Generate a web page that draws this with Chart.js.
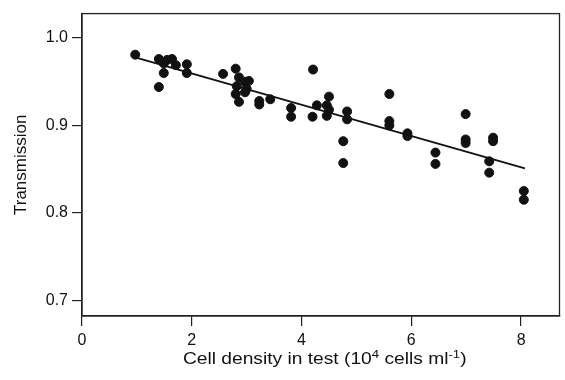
<!DOCTYPE html>
<html>
<head>
<meta charset="utf-8">
<script src="https://cdn.jsdelivr.net/npm/chart.js@4"></script>
<style>
  html, body { margin: 0; padding: 0; background: #fff; }
  #wrap { width: 565px; height: 380px; }
</style>
</head>
<body>
<div id="wrap"><canvas id="grafico"></canvas></div>
<script>
// valores
const densidade = [0.97, 1.40, 1.40, 1.49, 1.49, 1.55, 1.64, 1.71, 1.91, 1.91,
  2.57, 2.80, 2.86, 2.82, 2.80, 2.86, 2.97, 3.04, 3.00, 2.97,
  3.23, 3.23, 3.43, 3.81, 3.81, 4.21, 4.28, 4.20, 4.50, 4.46,
  4.50, 4.46, 4.83, 4.83, 4.76, 4.76, 5.60, 5.60, 5.60, 5.93,
  5.93, 6.44, 6.44, 6.99, 6.99, 6.99, 7.42, 7.42, 7.49, 7.49,
  8.05, 8.05];
const transmissao = [0.981, 0.976, 0.944, 0.971, 0.960, 0.975, 0.976, 0.969, 0.970, 0.960,
  0.959, 0.965, 0.955, 0.945, 0.936, 0.927, 0.950, 0.951, 0.942, 0.938,
  0.928, 0.924, 0.930, 0.920, 0.910, 0.964, 0.923, 0.910, 0.933, 0.923,
  0.918, 0.911, 0.916, 0.907, 0.882, 0.857, 0.936, 0.905, 0.900, 0.891,
  0.888, 0.869, 0.856, 0.913, 0.884, 0.880, 0.859, 0.846, 0.886, 0.882,
  0.825, 0.815];
// reta de regressão (extremos)
const retaX = [0.97, 8.07];
const retaY = [0.978, 0.851];
const ticksX = [0, 2, 4, 6, 8];
const ticksY = [0.7, 0.8, 0.9, 1.0];
// título do eixo x, pedaços normais e sobrescritos
const tituloX = [['Cell density in test (10', false], ['4', true], [' cells ml', false], ['-1', true], [')', false]];

const fonte = "'Liberation Sans', Arial, Helvetica, sans-serif";

// moldura em volta da área do gráfico + título do eixo x com expoentes
const moldura = {
  id: 'moldura',
  afterDraw(chart) {
    const a = chart.chartArea;
    const c = chart.ctx;
    c.save();
    c.strokeStyle = '#222';
    c.lineWidth = 1.3;
    c.strokeRect(a.left, a.top, a.right - a.left, a.bottom - a.top);

    const normal = '16px ' + fonte;
    const sobre = '11px ' + fonte;
    const esticar = 1.2; // o texto original é mais largo
    let total = 0;
    tituloX.forEach(([t, s]) => { c.font = s ? sobre : normal; total += c.measureText(t).width; });
    const centro = (a.left + a.right) / 2 + 4;
    c.translate(centro, 0);
    c.scale(esticar, 1);
    let x = -total / 2;
    const base = 364;
    c.fillStyle = '#111';
    c.textBaseline = 'alphabetic';
    c.textAlign = 'left';
    tituloX.forEach(([t, s]) => {
      c.font = s ? sobre : normal;
      c.fillText(t, x, s ? base - 6 : base);
      x += c.measureText(t).width;
    });
    c.restore();
  }
};

const ctx = document.getElementById('grafico').getContext('2d');
const grafico = new Chart(ctx, {
  type: 'scatter',
  data: {
    datasets: [{
      label: 'Pontos',
      data: densidade.map((x, i) => ({ x: x, y: transmissao[i] })),
      backgroundColor: '#111',
      borderColor: '#111',
      pointRadius: 4.5,
      pointHoverRadius: 4.5
    }, {
      type: 'line',
      label: 'Reta',
      data: retaX.map((x, i) => ({ x: x, y: retaY[i] })),
      borderColor: '#111',
      borderWidth: 1.8,
      pointRadius: 0,
      fill: false
    }]
  },
  options: {
    responsive: true,
    maintainAspectRatio: false,
    animation: false,
    layout: { padding: { left: 7, right: 1, top: 13, bottom: 0 } },
    plugins: {
      legend: { display: false },
      tooltip: { enabled: false }
    },
    scales: {
      x: {
        type: 'linear',
        min: 0,
        max: 8.7,
        afterFit(scale) { scale.height = 64; },
        afterBuildTicks(scale) { scale.ticks = ticksX.map(v => ({ value: v })); },
        ticks: {
          color: '#111',
          padding: 5,
          font: { family: fonte, size: 16 },
          callback: v => String(v)
        },
        grid: { display: true, drawOnChartArea: false, drawTicks: true, tickLength: 10, color: '#222', lineWidth: 1.2 },
        border: { display: true, color: '#222', width: 1.3 }
      },
      y: {
        type: 'linear',
        min: 0.682,
        max: 1.028,
        afterFit(scale) { scale.width = 75; },
        afterBuildTicks(scale) { scale.ticks = ticksY.map(v => ({ value: v })); },
        ticks: {
          color: '#111',
          padding: 4,
          font: { family: fonte, size: 16 },
          callback: v => Number(v).toFixed(1)
        },
        grid: { display: true, drawOnChartArea: false, drawTicks: true, tickLength: 10, color: '#222', lineWidth: 1.2 },
        border: { display: true, color: '#222', width: 1.3 },
        title: {
          display: true,
          text: 'Transmission',
          color: '#111',
          font: { family: fonte, size: 17 },
          padding: { top: 4, bottom: 4 }
        }
      }
    }
  },
  plugins: [moldura]
});
</script>
</body>
</html>
